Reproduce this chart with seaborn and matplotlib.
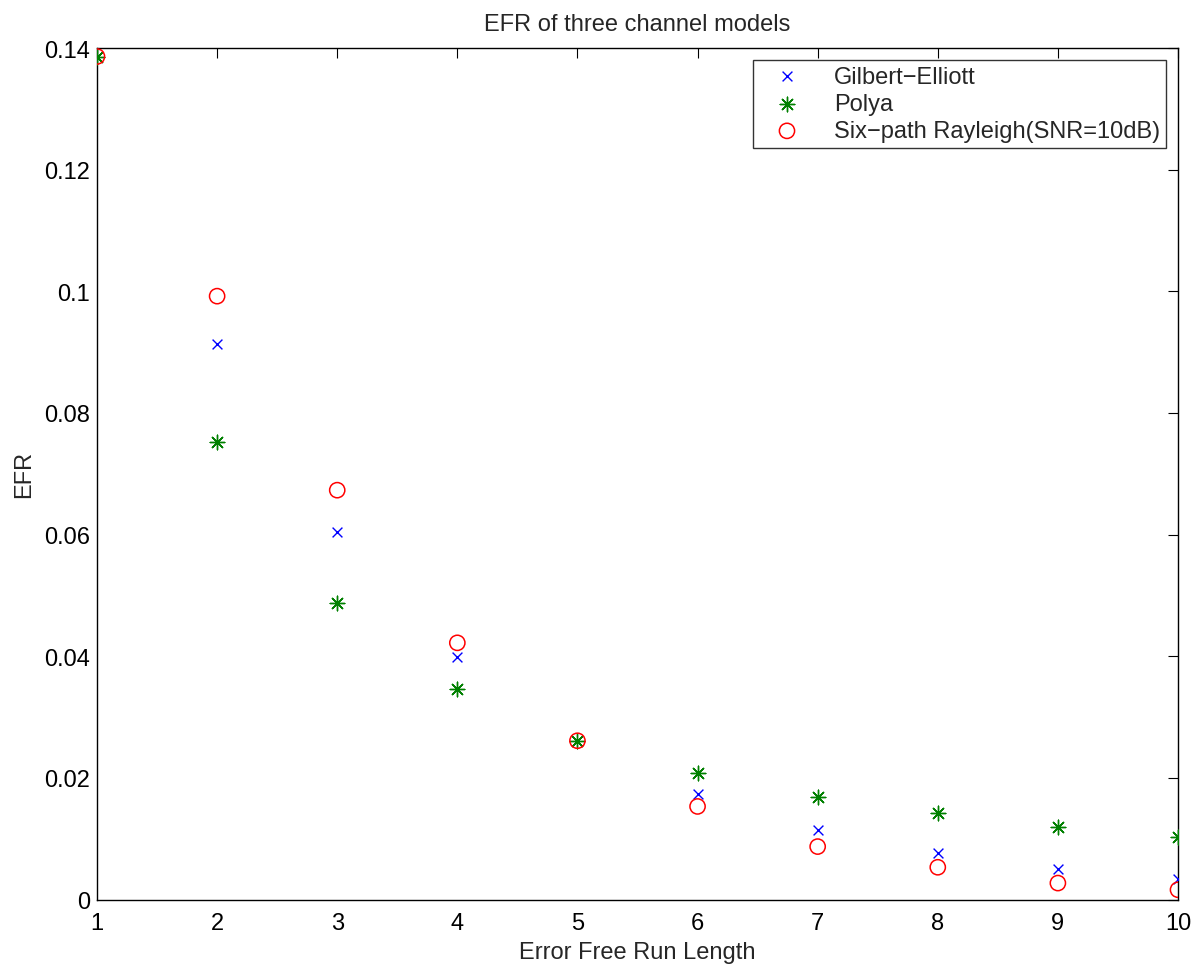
import matplotlib
matplotlib.use("Agg")
import matplotlib.pyplot as plt
import seaborn as sns
from matplotlib.ticker import FuncFormatter

run_length = [1, 2, 3, 4, 5, 6, 7, 8, 9, 10]
gilbert_elliott = [0.1386, 0.0914, 0.0604, 0.0398, 0.0261, 0.0173, 0.0114, 0.0076, 0.0050, 0.0033]
polya = [0.1386, 0.0752, 0.0487, 0.0346, 0.0261, 0.0208, 0.0169, 0.0142, 0.0120, 0.0103]
rayleigh = [0.1386, 0.0992, 0.0673, 0.0422, 0.0261, 0.0153, 0.0087, 0.0053, 0.0027, 0.0016]
y_ticks = [0, 0.02, 0.04, 0.06, 0.08, 0.10, 0.12, 0.14]

FS = 17

sns.set_style("white")
plt.rcParams["font.family"] = ["Liberation Sans", "DejaVu Sans"]
plt.rcParams["axes.linewidth"] = 1.0

fig = plt.figure(figsize=(12.04, 9.70), dpi=100)
ax = fig.add_axes([97 / 1204, (970 - 900.5) / 970, 1081 / 1204, 851.5 / 970])

sns.scatterplot(x=run_length, y=gilbert_elliott, marker="x", s=50, color=(0, 0, 1),
                linewidth=1.0, label="Gilbert\u2212Elliott", ax=ax, zorder=3)
sns.scatterplot(x=run_length, y=polya, marker=(8, 2, 0), s=110, color=(0, 0.5, 0),
                edgecolor=(0, 0.5, 0), linewidth=1.0, label="Polya", ax=ax, zorder=3)
sns.scatterplot(x=run_length, y=rayleigh, marker="o", s=120, facecolor="none",
                edgecolor=(1, 0, 0), linewidth=1.1,
                label="Six\u2212path Rayleigh(SNR=10dB)", ax=ax, zorder=3)

ax.set_xlim(1, 10)
ax.set_ylim(0, 0.14)
ax.set_xticks(run_length)
ax.set_yticks(y_ticks)
ax.yaxis.set_major_formatter(FuncFormatter(lambda v, p: "%g" % round(v, 4)))
for s in ax.spines.values():
    s.set_visible(True)
    s.set_color("black")
    s.set_linewidth(1.0)
ax.tick_params(direction="in", length=7, width=0.8, top=True, right=True,
               labelsize=FS, colors="black")
ax.tick_params(axis="x", pad=9)
ax.tick_params(axis="y", pad=5)

ax.set_title("EFR of three channel models", fontsize=FS, pad=13)
ax.set_xlabel("Error Free Run Length", fontsize=FS, labelpad=5)
ax.set_ylabel("EFR", fontsize=FS, labelpad=6.5)

leg = ax.legend(loc="upper right", bbox_to_anchor=(1166 / 1204, 1 - 61 / 970),
                bbox_transform=fig.transFigure, fontsize=FS, frameon=True,
                fancybox=False, borderpad=0.24, labelspacing=0.22,
                handletextpad=0.8, borderaxespad=0, handlelength=2.4)
leg.get_frame().set_edgecolor("black")
leg.get_frame().set_linewidth(1.0)

fig.savefig("out.png", dpi=100, facecolor="white")
